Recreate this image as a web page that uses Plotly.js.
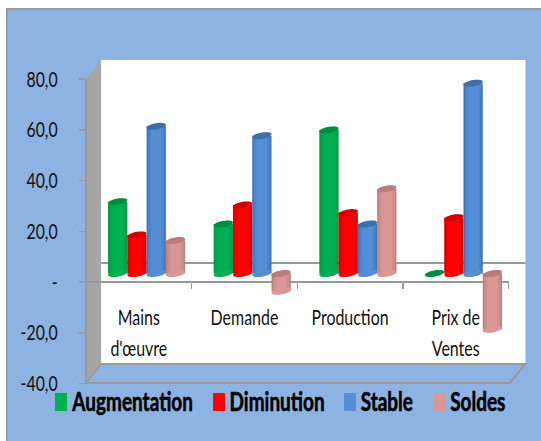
<!DOCTYPE html>
<html><head><meta charset="utf-8">
<script src="https://cdn.plot.ly/plotly-3.0.1.min.js"></script>
<style>html,body{margin:0;padding:0;background:#fff}
#chart .annotation-text{stroke:#000;stroke-width:0.55px}</style></head>
<body><div id="chart" style="width:541px;height:441px"></div>
<script>
const line1 = ["Mains", "Demande", "Production", "Prix de"];
const line2 = ["d'œuvre", "", "", "Ventes"];
const seriesNames = ["Augmentation", "Diminution", "Stable", "Soldes"];
const augmentation = [28.3, 19.5, 56.6, 0];
const diminution = [15.2, 27, 24, 22];
const stable = [58, 54.3, 19.5, 75];
const soldes = [13, -7, 33.4, -22];
const allValues = [augmentation, diminution, stable, soldes];
const yTickVals = [80, 60, 40, 20, 0, -20, -40];
const yTickText = ["80,0", "60,0", "40,0", "20,0", "-", "-20,0", "-40,0"];
const swatch = ["#00b050", "#ff0000", "#558ed5", "#d99694"];
const shadeEdge = ["#009a45", "#d80000", "#3f73b5", "#bd7f7d"];
const shadeMid = ["#00a84c", "#f00000", "#4c84cb", "#cf8d8b"];
const capColor = ["#008c41", "#d40000", "#3d6ea8", "#b87c7a"];
const legendSwatchX = [55, 213, 344, 434];
const legendTextCenter = [132, 277, 387, 477.5];

const W = 541, H = 441;
const px = x => x / W, py = y => 1 - y / H;
const FONT = "Lato,'Liberation Sans',sans-serif";
const GRAY = "#999999";
const barW = 0.1825;
const cats = [0, 1, 2, 3];
const poly = (pts, fill, lineColor, lw, layer) => ({
  type: "path", xref: "paper", yref: "paper", layer: layer || "below",
  path: "M" + pts.map(p => px(p[0]) + "," + py(p[1])).join("L") + "Z",
  fillcolor: fill, line: { color: lineColor || fill, width: lineColor ? (lw || 1) : 0 }
});
const paperLine = (x0, y0, x1, y1, c) => ({ type: "line", xref: "paper", yref: "paper", layer: "below", x0: px(x0), x1: px(x1), y0: py(y0), y1: py(y1), line: { color: c, width: 2 } });
const shapes = [
  poly([[7, 9], [541, 9], [541, 441], [7, 441]], "#8db3e2"),
  paperLine(7, 9, 541, 9, "#9a9a9a"),
  paperLine(7, 8, 7, 441, "#9a9a9a"),
  poly([[101, 60], [525.5, 60], [525.5, 364], [101, 364]], "#ffffff"),
  poly([[86, 79], [101, 60], [101, 364], [86, 383]], "#a6a6a6"),
  poly([[86, 383], [101, 364], [525.5, 364], [510, 383]], "#8db3e2", GRAY, 2),
  paperLine(101, 263, 525.5, 263, GRAY)
];
const data = [];
data.push({ type: "scatter", x: [0], y: [0], xaxis: "x", yaxis: "y", mode: "markers", marker: { opacity: 0 }, showlegend: false, hoverinfo: "skip" });
data.push({ type: "scatter", x: [0], y: [0], xaxis: "x3", yaxis: "y", mode: "markers", marker: { opacity: 0 }, showlegend: false, hoverinfo: "skip" });

function ellipse(cx, v, fill) {
  const a = barW / 2, b = 1.25, tilt = 0.6;
  let d = "";
  for (let i = 0; i < 36; i++) {
    const t = i / 36 * 2 * Math.PI;
    d += (i ? "L" : "M") + (cx + a * Math.cos(t)) + "," + (v + b * Math.sin(t) + tilt * Math.cos(t));
  }
  return { type: "path", xref: "x2", yref: "y2", layer: "above", path: d + "Z", fillcolor: fill, line: { width: 0 } };
}

allValues.forEach((vals, s) => {
  const xs = cats.map(c => c + (s - 1.5) * barW);
  [[1, shadeEdge[s]], [0.84, shadeMid[s]], [0.56, swatch[s]]].forEach(l => {
    data.push({
      type: "bar", x: xs, y: vals, width: barW * l[0], xaxis: "x2", yaxis: "y2",
      name: seriesNames[s], marker: { color: l[1], line: { width: 0 } },
      showlegend: false, hoverinfo: "skip"
    });
  });
  vals.forEach((v, i) => {
    if (v !== 0) shapes.push(ellipse(xs[i], v < 0 ? v : 0, swatch[s]));
  });
  vals.forEach((v, i) => shapes.push(ellipse(xs[i], v < 0 ? 0 : v, capColor[s])));
});

const annotations = seriesNames.map((n, i) => ({
  xref: "paper", yref: "paper", x: px(legendTextCenter[i]), y: py(401), xanchor: "center", yanchor: "middle",
  text: "<b>" + n + "</b>", showarrow: false, font: { family: FONT, size: 26, color: "#000" }
}));
seriesNames.forEach((n, i) => {
  shapes.push({ type: "rect", xref: "paper", yref: "paper", layer: "above",
    x0: px(legendSwatchX[i]), x1: px(legendSwatchX[i] + 12), y0: py(393), y1: py(411),
    fillcolor: swatch[i], line: { width: 0 } });
});

const layout = {
  width: W, height: H, autosize: false, showlegend: false,
  margin: { l: 0, r: 0, t: 0, b: 0, pad: 0 },
  paper_bgcolor: "#ffffff", plot_bgcolor: "rgba(0,0,0,0)",
  barmode: "overlay",
  shapes, annotations,
  font: { family: FONT, color: "#111" },
  xaxis: {
    domain: [px(86), px(508.5)], range: [-0.5, 3.5], anchor: "free", position: py(282),
    showgrid: false, zeroline: false, showline: true, linecolor: GRAY, linewidth: 2,
    tickmode: "array", tickvals: cats, ticktext: line1, ticks: "", ticklabelstandoff: 17,
    tickangle: 0, tickfont: { family: FONT, size: 21, color: "#111" },
    minor: { tickmode: "array", tickvals: [-0.5, 0.5, 1.5, 2.5, 3.5], ticks: "outside", ticklen: 6, tickwidth: 1.5, tickcolor: GRAY, showgrid: false }
  },
  xaxis3: {
    domain: [px(86), px(508.5)], range: [-0.5, 3.5], anchor: "free", position: py(334), overlaying: "x",
    showgrid: false, zeroline: false, showline: false, ticks: "",
    tickmode: "array", tickvals: cats, ticktext: line2, tickangle: 0,
    tickfont: { family: FONT, size: 21, color: "#111" }
  },
  yaxis: {
    domain: [py(383.5), py(79)], range: [-40, 80], anchor: "free", position: px(86),
    showgrid: false, zeroline: false, showline: true, linecolor: GRAY, linewidth: 2,
    tickmode: "array", tickvals: yTickVals, ticktext: yTickText, ticks: "outside", ticklen: 6, tickwidth: 1.5, tickcolor: GRAY,
    ticklabelstandoff: 17, tickfont: { family: FONT, size: 22, color: "#111" }
  },
  xaxis2: { domain: [px(93.8), px(516.3)], range: [-0.5, 3.5], anchor: "y2", visible: false, fixedrange: true },
  yaxis2: { domain: [py(375), py(70.5)], range: [-40, 80], anchor: "x2", visible: false, fixedrange: true }
};
function condense(sel, sx) {
  document.querySelectorAll(sel).forEach(t => {
    const x = parseFloat(t.getAttribute("x")) || 0;
    const old = t.getAttribute("transform") || "";
    t.setAttribute("transform", old + " translate(" + x + ",0) scale(" + sx + ",1) translate(" + (-x) + ",0)");
  });
}
Plotly.newPlot("chart", data, layout, { displayModeBar: false, staticPlot: true }).then(() => {
  condense("#chart .ytick text", 0.72);
  condense("#chart .xtick text, #chart .x3tick text", 0.76);
  condense("#chart .annotation-text", 0.73);
});
</script></body></html>
